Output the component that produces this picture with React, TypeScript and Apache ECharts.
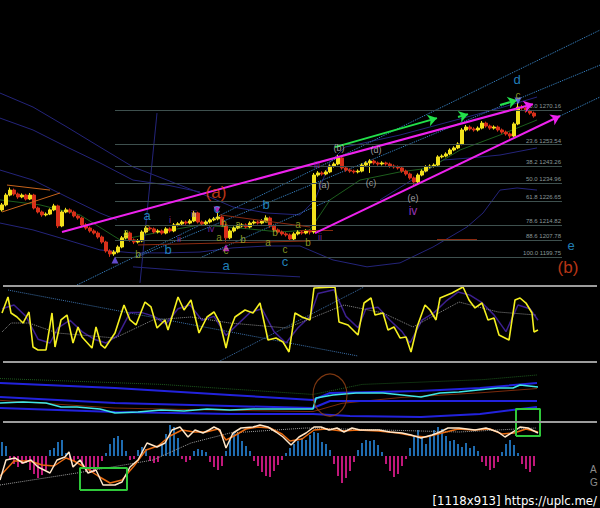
import React, { useEffect, useRef } from "react";
import * as echarts from "echarts";

type Pt = [number, number];

// ---- price panel -------------------------------------------------------
// OHLC rows: open, close, low, high (one per bar, bar index = position)
const candles: number[][] = [
  [1222.3, 1224.7, 1221.5, 1225.6], [1224.7, 1229.4, 1224.0, 1230.3], [1229.4, 1231.8, 1228.8, 1233.0],
  [1231.8, 1229.9, 1229.1, 1232.5], [1229.9, 1228.5, 1227.6, 1230.6], [1228.5, 1229.4, 1227.9, 1230.2],
  [1229.4, 1227.5, 1226.8, 1230.0], [1227.5, 1229.4, 1227.0, 1230.4], [1229.4, 1223.2, 1222.5, 1230.0],
  [1223.2, 1221.3, 1220.6, 1223.9], [1221.3, 1219.9, 1219.0, 1222.0], [1219.9, 1220.3, 1219.2, 1221.1],
  [1220.3, 1222.3, 1219.8, 1223.0], [1222.3, 1224.2, 1221.7, 1225.2], [1224.2, 1214.6, 1213.6, 1224.8],
  [1214.6, 1221.3, 1214.0, 1222.0], [1221.3, 1222.3, 1220.7, 1223.3], [1222.3, 1221.3, 1220.5, 1223.0],
  [1221.3, 1219.4, 1218.7, 1222.0], [1219.4, 1218.4, 1217.6, 1220.1], [1218.4, 1215.1, 1214.4, 1219.0],
  [1215.1, 1213.6, 1212.8, 1215.9], [1213.6, 1212.2, 1211.4, 1214.3], [1212.2, 1211.2, 1210.5, 1213.0],
  [1211.2, 1209.3, 1208.5, 1212.0], [1209.3, 1206.9, 1206.1, 1210.0], [1206.9, 1202.6, 1201.8, 1207.5],
  [1202.6, 1201.2, 1199.8, 1203.4], [1201.2, 1202.1, 1200.3, 1203.0], [1202.1, 1204.5, 1201.5, 1205.3],
  [1204.5, 1208.9, 1203.9, 1209.8], [1208.9, 1211.2, 1208.2, 1212.3], [1211.2, 1207.9, 1207.1, 1211.9],
  [1207.9, 1206.9, 1205.9, 1208.6], [1206.9, 1207.4, 1206.2, 1208.3], [1207.4, 1211.7, 1206.8, 1212.5],
  [1211.7, 1213.6, 1211.0, 1214.6], [1213.6, 1213.2, 1212.4, 1214.3], [1213.2, 1211.7, 1211.0, 1213.9],
  [1211.7, 1212.2, 1211.0, 1213.0], [1212.2, 1211.2, 1210.4, 1212.9], [1211.2, 1213.2, 1210.6, 1214.0],
  [1213.2, 1212.2, 1211.4, 1213.9], [1212.2, 1215.1, 1211.6, 1216.0], [1215.1, 1215.6, 1214.4, 1216.4],
  [1215.6, 1216.5, 1214.9, 1217.3], [1216.5, 1216.0, 1215.2, 1217.2], [1216.0, 1217.0, 1215.4, 1217.9],
  [1217.0, 1220.8, 1216.4, 1221.8], [1220.8, 1216.5, 1215.8, 1221.4], [1216.5, 1215.6, 1214.8, 1217.2],
  [1215.6, 1216.5, 1215.0, 1217.3], [1216.5, 1217.5, 1215.8, 1218.2], [1217.5, 1218.0, 1216.9, 1218.9],
  [1218.0, 1218.9, 1217.3, 1220.8], [1218.9, 1215.1, 1214.3, 1219.6], [1215.1, 1208.9, 1207.0, 1215.7],
  [1208.9, 1212.2, 1208.2, 1213.0], [1212.2, 1213.6, 1211.5, 1214.4], [1213.6, 1214.6, 1213.0, 1215.4],
  [1214.6, 1215.1, 1213.9, 1215.9], [1215.1, 1214.1, 1213.4, 1215.8], [1214.1, 1216.0, 1213.5, 1216.8],
  [1216.0, 1216.5, 1215.3, 1217.3], [1216.5, 1216.0, 1215.3, 1217.2], [1216.0, 1217.0, 1215.4, 1217.8],
  [1217.0, 1218.4, 1216.4, 1219.7], [1218.4, 1214.6, 1213.8, 1219.1], [1214.6, 1212.7, 1211.9, 1215.3],
  [1212.7, 1211.7, 1210.9, 1213.4], [1211.7, 1210.8, 1210.0, 1212.4], [1210.8, 1210.3, 1209.5, 1211.6],
  [1210.3, 1208.4, 1207.6, 1211.0], [1208.4, 1210.8, 1207.8, 1211.6], [1210.8, 1211.7, 1210.1, 1212.5],
  [1211.7, 1211.2, 1210.4, 1212.4], [1211.2, 1212.2, 1210.6, 1213.0], [1212.2, 1211.7, 1210.5, 1212.9],
  [1211.7, 1239.0, 1210.9, 1240.0], [1239.0, 1240.0, 1238.2, 1240.9], [1240.0, 1239.5, 1238.7, 1240.8],
  [1239.5, 1240.5, 1238.9, 1241.3], [1240.5, 1243.3, 1239.9, 1244.1], [1243.3, 1244.3, 1242.6, 1245.1],
  [1244.3, 1247.2, 1243.7, 1248.6], [1247.2, 1242.4, 1241.6, 1247.9], [1242.4, 1241.4, 1240.6, 1243.1],
  [1241.4, 1240.9, 1240.1, 1242.1], [1240.9, 1240.5, 1239.7, 1241.6], [1240.5, 1240.9, 1239.8, 1241.7],
  [1240.9, 1243.8, 1240.3, 1244.6], [1243.8, 1244.8, 1243.1, 1245.6], [1244.8, 1245.7, 1240.0, 1246.6],
  [1245.7, 1244.8, 1244.0, 1246.4], [1244.8, 1244.3, 1243.5, 1245.5], [1244.3, 1244.8, 1243.6, 1245.6],
  [1244.8, 1244.3, 1243.5, 1245.4], [1244.3, 1243.3, 1242.5, 1245.0], [1243.3, 1242.9, 1242.1, 1244.1],
  [1242.9, 1242.4, 1241.6, 1243.6], [1242.4, 1240.9, 1240.1, 1243.1], [1240.9, 1239.5, 1238.7, 1241.6],
  [1239.5, 1237.6, 1236.8, 1240.2], [1237.6, 1235.7, 1234.2, 1238.3], [1235.7, 1239.0, 1235.0, 1239.8],
  [1239.0, 1240.9, 1238.4, 1241.7], [1240.9, 1242.9, 1240.3, 1243.7], [1242.9, 1243.3, 1242.2, 1244.1],
  [1243.3, 1243.8, 1242.6, 1244.6], [1243.8, 1247.7, 1243.2, 1248.5], [1247.7, 1248.1, 1247.0, 1248.9],
  [1248.1, 1249.1, 1247.5, 1249.9], [1249.1, 1251.0, 1248.5, 1251.8], [1251.0, 1252.0, 1250.4, 1252.8],
  [1252.0, 1253.9, 1251.4, 1254.7], [1253.9, 1260.6, 1253.3, 1261.5], [1260.6, 1262.0, 1259.9, 1263.0],
  [1262.0, 1261.1, 1260.3, 1262.8], [1261.1, 1260.6, 1259.8, 1261.9], [1260.6, 1261.5, 1259.9, 1262.3],
  [1261.5, 1263.9, 1260.9, 1264.9], [1263.9, 1262.5, 1261.7, 1264.6], [1262.5, 1261.5, 1260.7, 1263.2],
  [1261.5, 1262.0, 1260.8, 1262.8], [1262.0, 1260.6, 1259.8, 1262.7], [1260.6, 1259.6, 1258.8, 1261.3],
  [1259.6, 1258.7, 1257.9, 1260.3], [1258.7, 1257.7, 1256.5, 1259.4], [1257.7, 1263.5, 1257.1, 1264.3],
  [1263.5, 1271.6, 1262.9, 1273.5], [1271.6, 1271.1, 1270.3, 1272.6], [1271.1, 1269.7, 1268.9, 1271.8],
  [1269.7, 1268.7, 1267.9, 1270.4], [1268.7, 1267.3, 1266.5, 1269.4],
];

// Fibonacci retracement levels
const fibPct = ["0.0", "23.6", "38.2", "50.0", "61.8", "78.6", "88.6", "100.0"];
const fibPrice = [1270.16, 1253.54, 1243.26, 1234.96, 1226.65, 1214.82, 1207.78, 1199.75];
const fibFrom = 28.25;
const fibTo = 140;

// envelope / band curves [bar, price]
const navyCurves: Pt[][] = [
  [[-0.5, 1278.3], [7.75, 1271.6], [16.25, 1262.0], [24.5, 1252.4], [32.75, 1242.9], [41.25, 1236.6],
   [49.5, 1230.4], [57.75, 1223.7], [66.25, 1220.8], [74.5, 1219.9], [78.25, 1227.1], [82, 1245.3],
   [85.75, 1252.4], [99.5, 1258.2], [116.25, 1266.8], [124.5, 1271.1], [133.75, 1276.4]],
  [[-0.5, 1266.3], [7.75, 1260.6], [16.25, 1252.4], [24.5, 1244.8], [32.75, 1236.6], [41.25, 1234.2], [49.5, 1230.9]],
  [[-0.5, 1241.4], [7.75, 1236.6], [16.25, 1228.5], [24.5, 1220.8], [28.75, 1217.5]],
  [[-0.5, 1216.0], [7.75, 1212.7], [16.25, 1207.9], [24.5, 1203.1], [32.75, 1201.7], [41.25, 1201.7],
   [49.5, 1202.1], [57.75, 1204.1], [66.25, 1205.0], [74.5, 1205.0], [82.75, 1198.3], [91.25, 1195.0],
   [99.5, 1196.9], [107.75, 1204.5], [116.25, 1214.1], [120.25, 1220.8], [124.5, 1231.8], [128.75, 1232.8],
   [133.75, 1231.8]],
  [[94.5, 1227.1], [104.5, 1239.0], [110.25, 1246.2], [117, 1247.2], [124.5, 1248.6], [133.75, 1252.0]],
  [[32.75, 1195.0], [49.5, 1192.6], [74.5, 1190.2]],
  [[38.75, 1268.7], [34.5, 1187.3]],
];

const greenAverage: Pt[] = [
  [-0.5, 1227.1], [9.5, 1224.7], [19.5, 1219.9], [29.5, 1207.9], [39.5, 1211.7], [49.5, 1215.1],
  [59.5, 1213.6], [69.5, 1211.7], [77, 1212.7], [82, 1227.1], [89.5, 1236.6], [99.5, 1240.5],
  [107, 1242.4], [114.5, 1251.0], [124.5, 1258.2], [133.75, 1265.4],
];

const channelDotted: Pt[][] = [
  [[18.75, 1186.3], [149.5, 1308.5]],
  [[33.75, 1199.75], [149.5, 1291.7]],
  [[139.5, 1267.3], [149.5, 1276.4]],
  [[49.5, 1199.3], [82, 1227.1]],
];

const wedgeLines: Pt[][] = [
  [[15, 1211.7], [132.75, 1273.0]],
  [[78.25, 1211.2], [139.5, 1267.3]],
];

const momentumArrows: Pt[][] = [
  [[83.25, 1252.4], [108.75, 1266.3]],
  [[114, 1266.8], [116.5, 1268.2]],
  [[124.5, 1272.6], [128.75, 1274.9]],
];

const redSegments: Pt[][] = [
  [[34, 1205.5], [77, 1207.4]],
  [[54.5, 1219.9], [77, 1214.1]],
  [[74.5, 1212.7], [82.75, 1212.7]],
  [[108.75, 1208.4], [118.75, 1208.4]],
];

const orangeSegments: Pt[][] = [
  [[1.25, 1234.2], [12, 1231.8]],
  [[0, 1221.3], [14.5, 1230.4]],
];

// wave count labels [text, bar, price]
const degreeLabels: [string, number, number][] = [["(a)", 53.5, 1230.6], ["(b)", 141.5, 1194.5]];
const minorLabels: [string, number, number][] = [
  ["d", 128.75, 1285.0], ["e", 142.25, 1205.0], ["a", 36.25, 1219.6], ["b", 41.5, 1203.1],
  ["c", 53.75, 1223.0], ["a", 56, 1195.8], ["b", 66, 1224.9], ["c", 70.75, 1197.6],
];
const minuteLabels: [string, number, number][] = [
  ["c", 129, 1276.9], ["a", 31, 1211.7], ["b", 34, 1200.7], ["c", 36.25, 1213.9], ["b", 55.5, 1216.0],
  ["a", 54.25, 1209.3], ["c", 56, 1202.8], ["a", 59, 1215.1], ["b", 60.25, 1207.9], ["c", 66, 1217.9],
  ["b", 68.25, 1211.7], ["a", 66.5, 1206.5], ["c", 70.75, 1203.4], ["a", 74, 1215.1], ["b", 76.5, 1206.5],
];
const impulseLabels: [string, number, number][] = [
  ["i", 42, 1217.5], ["ii", 44.25, 1208.4], ["iii", 48, 1220.3], ["iv", 52.25, 1213.2],
  ["iii", 78.75, 1243.8], ["ii", 79.5, 1209.3],
];
const bigImpulseLabels: [string, number, number][] = [["iv", 102.75, 1221.8]];
const triangleLabels: [string, number, number][] = [
  ["(a)", 80.5, 1234.2], ["(b)", 84.25, 1252.0], ["(c)", 92.25, 1235.2], ["(d)", 93.5, 1251.0], ["(e)", 102.75, 1228.0],
];
const pivotMarks: [number, number, string, number][] = [
  [28.25, 1198.3, "#7b5cff", 0], [53.75, 1222.3, "#e030e0", 180], [56, 1204.1, "#e030e0", 0], [129, 1274.5, "#6a80ff", 180],
];

// ---- oscillator panel (0..100) -----------------------------------------
const oscFast: Pt[] = [
  [0, 64.5], [1.5, 85.5], [2.25, 64.5], [3.75, 59.2], [5.25, 51.3], [6.75, 65.8], [7.75, 19.7], [9, 15.8],
  [11, 15.8], [12.5, 64.5], [13.25, 19.7], [14.75, 55.3], [16.25, 61.8], [17.75, 25], [19, 46.1], [20, 32.9],
  [22.5, 18.4], [23.5, 46.1], [24.75, 22.4], [25.75, 18.4], [28.25, 38.2], [30.5, 75], [32, 55.3], [33.5, 48.7],
  [35.75, 78.9], [37.25, 72.4], [38.75, 44.7], [40.75, 55.3], [41.5, 42.1], [44, 85.5], [45.5, 68.4],
  [47.25, 81.6], [49.25, 38.2], [51.25, 59.2], [53, 65.8], [54.5, 51.3], [56, 18.4], [57, 42.1], [58.25, 59.2],
  [60.75, 68.4], [62.75, 64.5], [64.5, 77.6], [66.5, 28.9], [68.5, 31.6], [70.25, 26.3], [71.75, 13.2],
  [73.25, 64.5], [75, 59.2], [77, 55.3], [78, 97.4], [83.25, 98.7], [84.25, 52.6], [86.5, 48.7], [89, 35.5],
  [90.5, 77.6], [92.25, 84.2], [93.25, 61.8], [95.25, 64.5], [96.5, 42.1], [98, 46.1], [99.5, 31.6],
  [101, 32.9], [102.25, 13.2], [103.75, 46.1], [105.75, 75], [107, 68.4], [108.5, 55.3], [109.5, 84.2],
  [112.5, 90.8], [115.25, 98.7], [116.75, 81.6], [118.25, 71.1], [120, 77.6], [121.5, 55.3], [123, 57.9],
  [124.25, 35.5], [126.75, 28.9], [128.25, 81.6], [129.5, 84.2], [131, 77.6], [132.5, 64.5], [133, 39.5],
  [134, 42.1],
];
const oscSlow: Pt[] = [
  [0, 70], [3, 75], [6, 60], [9, 30], [12, 25], [14, 45], [17, 55], [20, 40], [23, 30], [26, 25], [29, 35],
  [32, 65], [35, 65], [38, 60], [41, 50], [44, 70], [47, 75], [50, 55], [53, 60], [56, 35], [59, 50], [62, 65],
  [65, 70], [68, 40], [71, 25], [74, 45], [77, 60], [79, 90], [83, 95], [86, 60], [89, 45], [91, 70], [94, 72],
  [97, 55], [100, 40], [102, 25], [105, 55], [108, 65], [111, 80], [114, 92], [117, 88], [120, 78], [123, 62],
  [126, 40], [129, 75], [132, 70], [134, 55],
];
const oscSignal: Pt[] = [
  [0, 39.5], [2.25, 51.3], [6.75, 51.3], [13.75, 38.2], [28.25, 31.6], [37.75, 55.3], [47.25, 59.2],
  [57, 51.3], [71.25, 44.7], [85.5, 75], [95.25, 64.5], [102.75, 46.1], [114.25, 78.9], [124, 65.8], [133.5, 61.8],
];
const oscDotted: Pt[][] = [
  [[1.5, 94.7], [89, 7.9]],
  [[54, 0], [90.5, 98.7]],
];
const oscArrows: Pt[][] = [
  [[83.25, 111.8], [107.75, 98.7]],
  [[116.25, 107.9], [123, 86.8]],
  [[123.5, 102.6], [128.25, 92.1]],
];

// ---- band panel (0..100) ------------------------------------------------
const bandPrice: Pt[] = [
  [-0.5, 30.5], [5.25, 32.2], [11, 30.5], [14.75, 23.7], [18.75, 23.7], [24.5, 20.3], [28.25, 13.6], [34, 15.3],
  [39.75, 18.6], [45.5, 16.9], [51.25, 20.3], [57, 18.6], [62.75, 20.3], [68.5, 20.3], [74.25, 20.3],
  [77.75, 20.3], [78.5, 39.0], [82.75, 44.1], [88.5, 47.5], [95.25, 47.5], [100, 44.1], [104.75, 40.7],
  [109.5, 47.5], [114.25, 49.2], [119, 52.5], [124, 55.9], [127.75, 55.9], [129.5, 61.0], [134, 57.6],
];
const bandLines: Pt[][] = [
  [[-0.5, 64.4], [28.25, 55.9], [57, 44.1], [77.75, 35.6], [82, 47.5], [104.5, 50.8], [119.5, 55.9], [133.75, 64.4]],
  [[-0.5, 40.7], [28.25, 30.5], [57, 25.4], [77.75, 22.0], [82, 33.9], [133.75, 33.9]],
  [[-0.5, 22.0], [28.25, 15.3], [57, 11.9], [77.75, 11.9], [87, 8.5], [104.75, 6.8], [119.5, 11.9], [133.75, 23.7]],
];
const bandBasis: Pt[] = [[-0.5, 35], [28, 22], [57, 18], [77.75, 16], [85, 30], [100, 40], [120, 48], [133.75, 55]];
const bandOuter: Pt[] = [[-0.5, 72], [40, 62], [77.75, 45], [90, 62], [120, 70], [133.75, 78]];
const breakoutRing: Pt = [82, 44];

// ---- histogram panel ----------------------------------------------------
const histogram = [
  14, 10, -4, -8, -11, -8, -7, -14, -18, -22, -19, -14, 6, 8, 14, 16, 3, -4, -5, -3, -10, -15, -17, -16, -12,
  -5, 3, 12, 18, 20, 16, 5, -4, -3, 6, 9, 7, -5, -7, -6, 12, 22, 31, 29, 18, -3, -6, -4, 5, 7, 6, 4, -6, -11,
  -14, -10, 5, 16, 23, 22, 15, 10, 5, -5, -10, -16, -20, -21, -15, -9, -4, 3, 8, 12, 15, 18, 16, 21, 24, 23,
  14, 12, 6, -8, -20, -27, -22, -15, -6, 6, 13, 16, 15, 16, 11, 4, -8, -15, -21, -18, -10, -3, 8, 20, 26, 18,
  12, 20, 26, 29, 27, 20, 15, 16, 12, 9, 13, 8, 10, 5, -6, -10, -14, -12, -6, 4, 12, 16, 11, 3, -8, -13, -16, -10,
];
const histFast: Pt[] = [
  [-0.5, -24], [1, -4], [3.25, -2], [5.25, -7], [7.25, -4], [9, -11], [12, -17], [13.75, -4], [15.75, -1],
  [16.75, 4], [17.75, -11], [19.5, -4], [21.5, -17], [23.5, -14], [25.25, -29], [28.25, -29], [30, -26],
  [32, -11], [34, -4], [36.25, 13], [38.75, 9], [40.75, 13], [42.5, 26], [44.5, 29], [46.5, 19], [48.25, 26],
  [50.25, 23], [51.75, 26], [53, 29], [54.5, 26], [56, 8], [57.75, 23], [59.75, 28], [62.75, 29], [64.5, 31],
  [66.5, 29], [68.5, 24], [70.25, 19], [72.25, 11], [74.25, 19], [76, 23], [78, 29], [79.75, 29], [81.75, 26],
  [83.75, 28], [85.5, 24], [87.5, 28], [89.5, 26], [91.25, 26], [94.25, 26], [97, 24], [100, 23], [102.25, 21],
  [104.75, 18], [107.5, 21], [109.5, 24], [111.5, 28], [114.25, 28], [118.25, 26], [121, 28], [124, 24],
  [125.75, 19], [127.75, 24], [129.5, 29], [131.5, 28], [134, 23],
];
const histSlow: Pt[] = [
  [-0.5, -20], [3, -5], [7, -5], [10, -9], [13, -10], [16, -2], [18, -5], [21, -12], [24, -20], [27, -27],
  [30, -24], [33, -10], [36, 6], [39, 10], [42, 20], [45, 26], [48, 24], [51, 24], [54, 27], [56, 16], [58, 20],
  [61, 27], [64, 29], [67, 28], [70, 22], [72, 15], [75, 17], [78, 26], [81, 27], [85, 25], [89, 26], [94, 25],
  [99, 23], [103, 20], [106, 19], [110, 23], [114, 27], [118, 26], [122, 27], [125, 22], [128, 23], [131, 27],
  [134, 24],
];
const histTrend: Pt[] = [
  [-0.5, -29], [18.75, -17], [37.75, -4], [47.25, 13], [57, 23], [76, 28], [95.25, 26], [114.25, 24], [133.5, 28],
];
// highlighted zones: [fromBar, toBar, low, high]
const zoneBoxes: number[][] = [
  [19.5, 31.25, -34, -12],
  [128.5, 134.5, 20, 47],
];

const FONT = "'Liberation Sans', Arial, sans-serif";

function seg(grid: number, data: Pt[], color: string, width: number, type: string = "solid", z = 2) {
  return {
    type: "line",
    xAxisIndex: grid,
    yAxisIndex: grid,
    data,
    symbol: "none",
    silent: true,
    z,
    lineStyle: { color, width, type },
  };
}

function textLayer(items: [string, number, number][], color: string, size: number) {
  return {
    type: "scatter",
    xAxisIndex: 0,
    yAxisIndex: 0,
    symbolSize: 0.1,
    silent: true,
    z: 8,
    itemStyle: { color: "transparent" },
    label: {
      show: true,
      position: "inside",
      formatter: "{b}",
      color,
      fontSize: size,
      fontFamily: FONT,
    },
    data: items.map(([t, x, y]) => ({ name: t, value: [x, y] })),
  };
}

function arrowPairs(list: Pt[][], color: string, width: number, arrow: boolean) {
  return list.map(([a, b]) => [
    { coord: a, symbol: "none", lineStyle: { color, width, type: "solid" } },
    { coord: b, symbol: arrow ? "arrow" : "none", symbolSize: arrow ? 9 : 0 },
  ]);
}

function buildOption(): any {
  const grids = [
    { left: 0, top: 0, width: 600, height: 285 },
    { left: 0, top: 286, width: 600, height: 76 },
    { left: 0, top: 362, width: 600, height: 59 },
    { left: 0, top: 422, width: 600, height: 68 },
  ];
  const yRanges = [
    [1186.3, 1322.9],
    [0, 100],
    [0, 100],
    [-34, 34],
  ];

  const series: any[] = [];

  // price panel
  navyCurves.forEach((c) => series.push(seg(0, c, "#24247a", 1, "solid", 1)));
  channelDotted.forEach((c) => series.push(seg(0, c, "#3b8bd0", 1, "dotted", 2)));
  series.push({
    type: "candlestick",
    xAxisIndex: 0,
    yAxisIndex: 0,
    barWidth: 2.6,
    z: 3,
    silent: true,
    data: candles.map((c, i) => [i, c[0], c[1], c[2], c[3]]),
    itemStyle: {
      color: "#f2e21c",
      color0: "#d8301a",
      borderColor: "#f2e21c",
      borderColor0: "#d8301a",
      borderWidth: 1,
    },
    markLine: {
      silent: true,
      symbol: ["none", "none"],
      animation: false,
      lineStyle: { color: "#3e504e", width: 1, type: "solid" },
      label: {
        show: true,
        position: "insideEndTop",
        distance: 1,
        color: "#8a9898",
        fontSize: 6,
        fontFamily: FONT,
        formatter: (p: any) => `${fibPct[p.dataIndex]} ${fibPrice[p.dataIndex].toFixed(2)}`,
      },
      data: fibPrice.map((p) => [{ coord: [fibFrom, p] }, { coord: [fibTo, p] }]),
    },
  });
  series.push({
    ...seg(0, greenAverage, "#1d5e1d", 1, "solid", 2),
    markLine: {
      silent: true,
      animation: false,
      symbol: ["none", "none"],
      label: { show: false },
      z: 6,
      data: [
        ...arrowPairs(redSegments, "#8a2a10", 1, false),
        ...arrowPairs(orangeSegments, "#c8641c", 1, false),
        ...arrowPairs(wedgeLines, "#ee22ee", 2, true),
        ...arrowPairs(momentumArrows, "#22e04a", 2, true),
      ],
    },
  });
  series.push({
    type: "scatter",
    xAxisIndex: 0,
    yAxisIndex: 0,
    silent: true,
    z: 7,
    symbol: "triangle",
    symbolSize: 7,
    data: pivotMarks.map(([x, y, c, r]) => ({ value: [x, y], symbolRotate: r, itemStyle: { color: c } })),
  });
  series.push(textLayer(degreeLabels, "#e8441c", 17));
  series.push(textLayer(minorLabels, "#2aa2e6", 13));
  series.push(textLayer(minuteLabels, "#a6b82c", 10));
  series.push(textLayer(impulseLabels, "#9a30c8", 9));
  series.push(textLayer(bigImpulseLabels, "#c040e0", 12));
  series.push(textLayer(triangleLabels, "#c4c4c4", 9));

  // oscillator panel
  oscDotted.forEach((c) => series.push(seg(1, c, "#3b6fa8", 1, "dotted", 1)));
  series.push(seg(1, oscSlow, "#3c1f8f", 1.5, "solid", 2));
  series.push({
    ...seg(1, oscSignal, "#8a8a8a", 1, "dotted", 2),
    clip: false,
    markLine: {
      silent: true,
      animation: false,
      symbol: ["none", "none"],
      label: { show: false },
      z: 6,
      data: arrowPairs(oscArrows, "#22e04a", 2, true),
    },
  });
  series.push(seg(1, oscFast, "#f5f020", 1.6, "solid", 3));

  // band panel
  series.push(seg(2, bandOuter, "#1e5a1e", 1, "dotted", 1));
  series.push(seg(2, bandBasis, "#7a2a0c", 1, "solid", 2));
  bandLines.forEach((c) => series.push(seg(2, c, "#2222dd", 2, "solid", 2)));
  series.push(seg(2, bandPrice, "#3fe6e6", 1.6, "solid", 3));
  series.push({
    type: "scatter",
    xAxisIndex: 2,
    yAxisIndex: 2,
    silent: true,
    z: 4,
    symbol: "circle",
    symbolSize: [34, 42],
    data: [breakoutRing],
    itemStyle: { color: "transparent", borderColor: "#9a4414", borderWidth: 1.2 },
  });

  // histogram panel
  series.push({
    type: "bar",
    xAxisIndex: 3,
    yAxisIndex: 3,
    barWidth: 2,
    silent: true,
    z: 1,
    data: histogram.map((v, i) => ({
      value: [i, v],
      itemStyle: { color: v >= 0 ? "#1f6cb0" : "#c0187a" },
    })),
  });
  series.push(seg(3, histTrend, "#9a9a9a", 1, "dotted", 2));
  series.push(seg(3, histSlow, "#e86a10", 1.5, "solid", 3));
  series.push(seg(3, histFast, "#ffe6c8", 1.5, "solid", 4));
  zoneBoxes.forEach(([x0, x1, y0, y1]) =>
    series.push({
      ...seg(3, [[x0, y0], [x0, y1], [x1, y1], [x1, y0], [x0, y0]], "#2fc83a", 2, "solid", 6),
      clip: false,
    })
  );

  const separators = [285, 361, 421].map((y) => ({
    type: "rect",
    shape: { x: 3, y, width: 594, height: 2 },
    style: { fill: "#9c9c9c" },
    silent: true,
    z: 10,
  }));

  return {
    animation: false,
    backgroundColor: "#000",
    grid: grids.map((g) => ({ ...g, containLabel: false })),
    xAxis: grids.map((_, i) => ({
      type: "value",
      gridIndex: i,
      min: -0.5,
      max: 149.5,
      show: false,
    })),
    yAxis: yRanges.map(([mn, mx], i) => ({
      type: "value",
      gridIndex: i,
      min: mn,
      max: mx,
      show: false,
      splitLine: { show: false },
    })),
    series,
    graphic: [
      ...separators,
      {
        type: "text",
        x: 590,
        y: 464,
        silent: true,
        style: { text: "A", fill: "#8c8c8c", font: `10px ${FONT}` },
      },
      {
        type: "text",
        x: 590,
        y: 477,
        silent: true,
        style: { text: "G", fill: "#8c8c8c", font: `10px ${FONT}` },
      },
      {
        type: "text",
        right: 3,
        top: 494,
        silent: true,
        style: {
          text: "[1118x913] https://uplc.me/",
          fill: "#ffffff",
          font: `13px 'DejaVu Sans Condensed', 'Liberation Sans Narrow', 'Liberation Sans', sans-serif`,
        },
      },
    ],
  };
}

export default function App() {
  const ref = useRef<HTMLDivElement>(null);
  useEffect(() => {
    document.body.style.margin = "0";
    document.body.style.background = "#000";
    const chart = echarts.init(ref.current as HTMLDivElement, null, { renderer: "svg" });
    chart.setOption(buildOption());
    return () => chart.dispose();
  }, []);
  return (
    <div
      ref={ref}
      style={{ position: "absolute", left: 0, top: 0, width: 600, height: 508, background: "#000" }}
    />
  );
}
